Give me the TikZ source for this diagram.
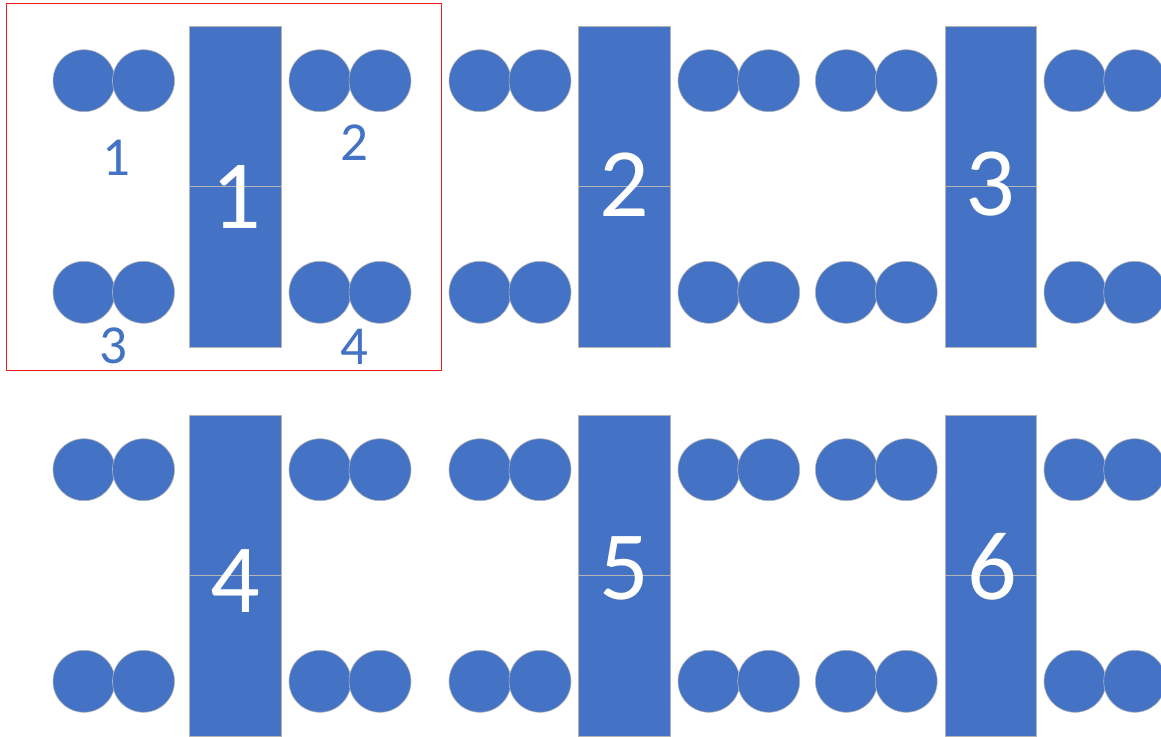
\documentclass[tikz,border=0pt]{standalone}
\usepackage{fontspec}
\setmainfont{Carlito}
\definecolor{seatblue}{HTML}{4472C4}
\definecolor{edgegray}{HTML}{B4B4B4}
\definecolor{framered}{HTML}{F01818}
\begin{document}
\begin{tikzpicture}[x=1pt,y=-1pt,
  seat/.style={circle,fill=seatblue,draw=edgegray,line width=0.6pt,minimum size=62pt,inner sep=0pt},
  tablehalf/.style={rectangle,fill=seatblue,draw=edgegray,line width=0.8pt,minimum width=91.7pt,minimum height=160.35pt,inner sep=0pt},
  bignum/.style={text=white,font=\fontsize{98}{98}\selectfont,anchor=base,inner sep=0pt},
  seatlabel/.style={text=seatblue,font=\fontsize{55}{55}\selectfont,anchor=base,inner sep=0pt},
  frame/.style={draw=framered,line width=1pt}]
\useasboundingbox (0,0) rectangle (1161,736);
\clip (0,0) rectangle (1161,736);
\fill[white] (0,0) rectangle (1161,736);
% tables
\foreach \r/\ry in {1/0,2/389}{
  \foreach \c/\cx in {1/235.65,2/624.6,3/990.85}{
    \node[tablehalf] (t\r\c-top) at (\cx,{106.475+\ry}) {};
    \node[tablehalf] (t\r\c-bot) at (\cx,{266.825+\ry}) {};
  }
}
% seats
\foreach \r/\ry in {1/0,2/389}{
  \foreach \k/\sx in {1/84,2/143.5,3/320,4/380,5/480,6/540,7/709,8/768.7,9/846.4,10/906.2,11/1075,12/1134.7}{
    \node[seat] (s\r-top-\k) at (\sx,{80.7+\ry}) {};
    \node[seat] (s\r-bot-\k) at (\sx,{292.3+\ry}) {};
  }
}
% table numbers
\node[bignum] (n1) at (236,228) {1};
\node[bignum] (n2) at (624.5,216) {2};
\node[bignum] (n3) at (990,215) {3};
\node[bignum] (n4) at (235,612) {4};
\node[bignum] (n5) at (624.5,599) {5};
\node[bignum] (n6) at (992,599) {6};
% seat labels
\node[seatlabel] (l1) at (116.7,175) {1};
\node[seatlabel] (l2) at (354.3,160.7) {2};
\node[seatlabel] (l3) at (113.3,363) {3};
\node[seatlabel] (l4) at (354.3,364) {4};
% highlight frame
\draw[frame] (6.7,3.7) rectangle (441.5,370);
\end{tikzpicture}
\end{document}
